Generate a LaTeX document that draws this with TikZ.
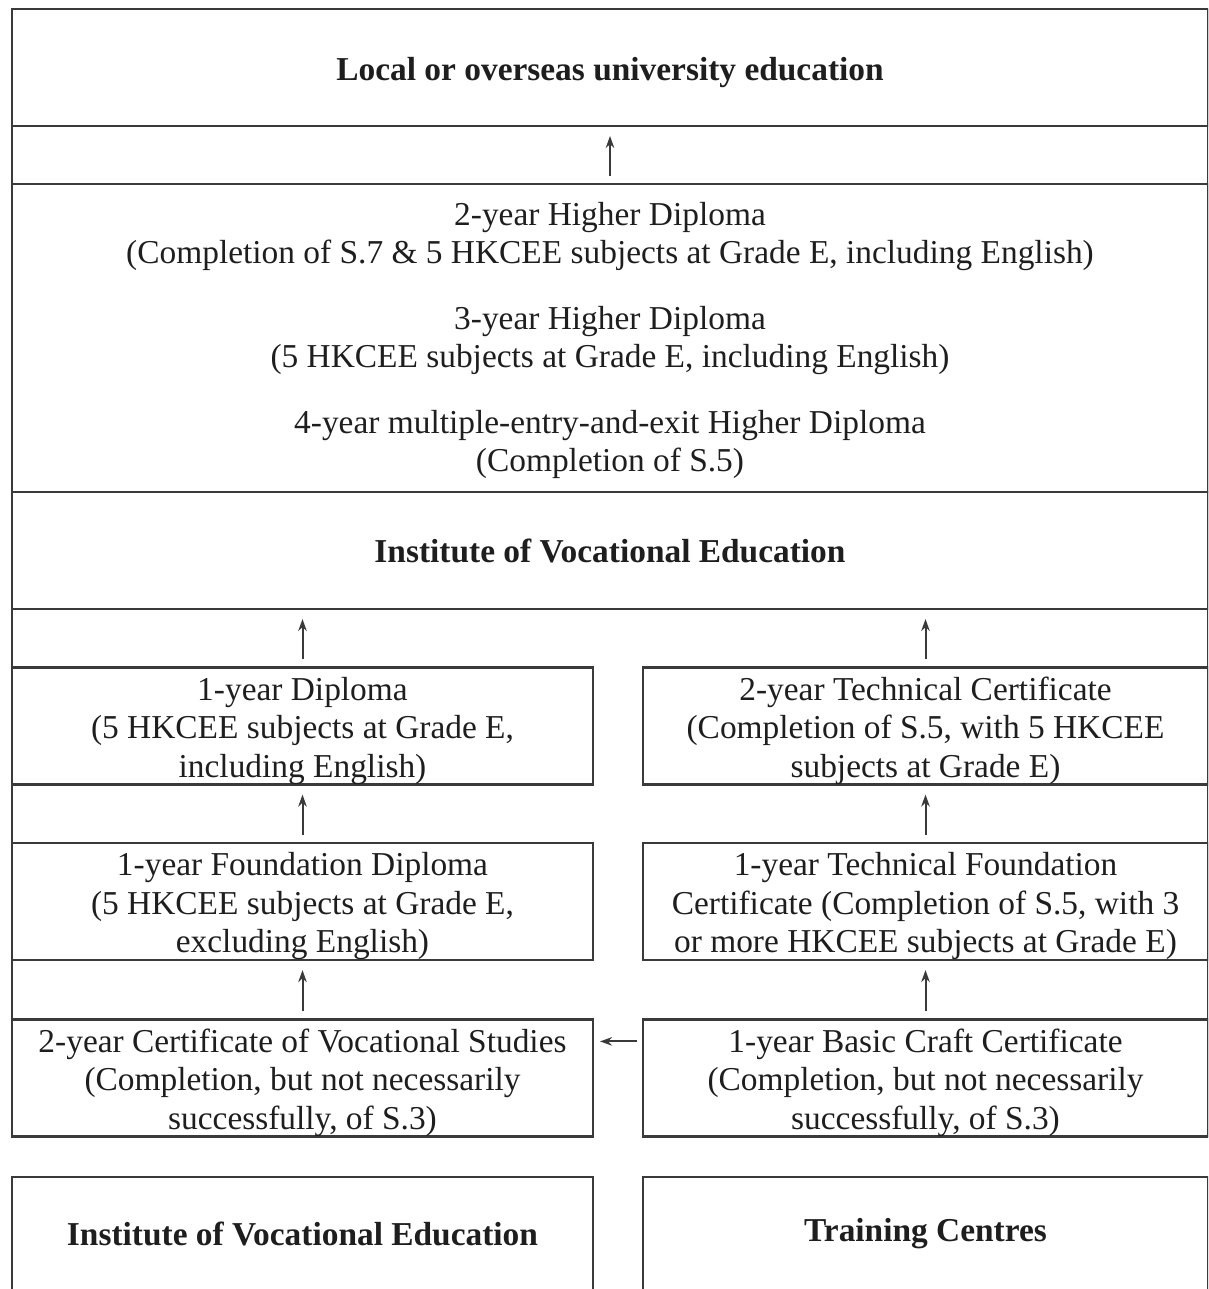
\documentclass[tikz,border=0pt]{standalone}
\usepackage{fontspec}
\setmainfont{Liberation Serif}
\usepackage{tikz}
\usetikzlibrary{arrows.meta, positioning}
\definecolor{rulegrey}{HTML}{3A3A3A}
\definecolor{inkblack}{HTML}{1E1E1E}
\newcommand{\firstline}{\rule{0pt}{33pt}}

\begin{document}
\begin{tikzpicture}[x=1pt, y=-1pt, font=\fontsize{33.4}{38.5}\selectfont, >={Stealth[length=12pt, width=8.5pt]}]
    \tikzstyle{band} = [rectangle, draw=rulegrey, line width=2.6pt, minimum width=1196pt,
      align=center, text=inkblack, inner sep=0pt, outer sep=0pt]
    \tikzstyle{provider} = [rectangle, draw=rulegrey, line width=2.6pt, minimum height=114pt,
      align=center, text=inkblack, inner sep=0pt, outer sep=0pt, font=\fontsize{33.4}{38.5}\selectfont\bfseries]
    \tikzstyle{course} = [rectangle, draw=rulegrey, line width=2.6pt, minimum height=116pt,
      align=center, text=inkblack, inner sep=0pt, outer sep=0pt]
    \tikzstyle{up} = [->, line width=2pt, draw=rulegrey, shorten <=8pt, shorten >=10pt]

    \useasboundingbox (0,0) rectangle (1208,1289);
    \clip (0,0) rectangle (1208,1289);

    % Layout: full-width bands on top, two columns of courses below
    \node (univ) [band, minimum height=117pt, font=\fontsize{33.4}{38.5}\selectfont\bfseries] at (610, 67.5)
      {\firstline Local or overseas university education};
    \node (hd)   [band, minimum height=308pt] at (610, 338)
      {\rule{0pt}{28pt}2-year Higher Diploma\\(Completion of S.7 \& 5 HKCEE subjects at Grade E, including English)\\[27pt]
       3-year Higher Diploma\\(5 HKCEE subjects at Grade E, including English)\\[27pt]
       4-year multiple-entry-and-exit Higher Diploma\\(Completion of S.5)};
    \node (ive)  [band, minimum height=117pt, font=\fontsize{33.4}{38.5}\selectfont\bfseries] at (610, 550.5)
      {Institute of Vocational Education};

    % left column
    \node (dip)  [course, minimum width=581pt] at (302.5, 726)
      {\firstline 1-year Diploma\\(5 HKCEE subjects at Grade E,\\including English)};
    \node (fdip) [course, minimum width=581pt] at (302.5, 901.5)
      {\firstline 1-year Foundation Diploma\\(5 HKCEE subjects at Grade E,\\excluding English)};
    \node (cvs)  [course, minimum width=581pt] at (302.5, 1078)
      {\firstline 2-year Certificate of Vocational Studies\\(Completion, but not necessarily\\successfully, of S.3)};

    % right column
    \node (tc)   [course, minimum width=565pt] at (925.5, 726)
      {\firstline 2-year Technical Certificate\\(Completion of S.5, with 5 HKCEE\\subjects at Grade E)};
    \node (tfc)  [course, minimum width=565pt] at (925.5, 901.5)
      {\firstline 1-year Technical Foundation\\Certificate (Completion of S.5, with 3\\or more HKCEE subjects at Grade E)};
    \node (bcc)  [course, minimum width=565pt] at (925.5, 1078)
      {\firstline 1-year Basic Craft Certificate\\(Completion, but not necessarily\\successfully, of S.3)};

    % providers (cut off at the bottom)
    \node (ivebot) [provider, minimum width=581pt] at (302.5, 1234) {Institute of Vocational Education};
    \node (tcen)   [provider, minimum width=565pt] at (925.5, 1234) {Training Centres};

    % outer frame sides
    \draw [draw=rulegrey, line width=2.6pt] (univ.north west) -- (cvs.south west);
    \draw [draw=rulegrey, line width=2.6pt] (univ.north east) -- (bcc.south east);

    % progression arrows
    \draw [up] (hd.north) -- (univ.south);
    \draw [up] (dip.north) -- (dip.north |- ive.south);
    \draw [up] (tc.north) -- (tc.north |- ive.south);
    \draw [up] (fdip.north) -- (dip.south);
    \draw [up] (tfc.north) -- (tc.south);
    \draw [up] (cvs.north) -- (fdip.south);
    \draw [up] (bcc.north) -- (tfc.south);

    % Basic Craft -> Vocational Studies
    \draw [->, line width=2pt, draw=rulegrey, shorten <=6pt, shorten >=7pt]
      ([yshift=-22pt]bcc.north west) -- ([yshift=-22pt]cvs.north east);
\end{tikzpicture}
\end{document}
